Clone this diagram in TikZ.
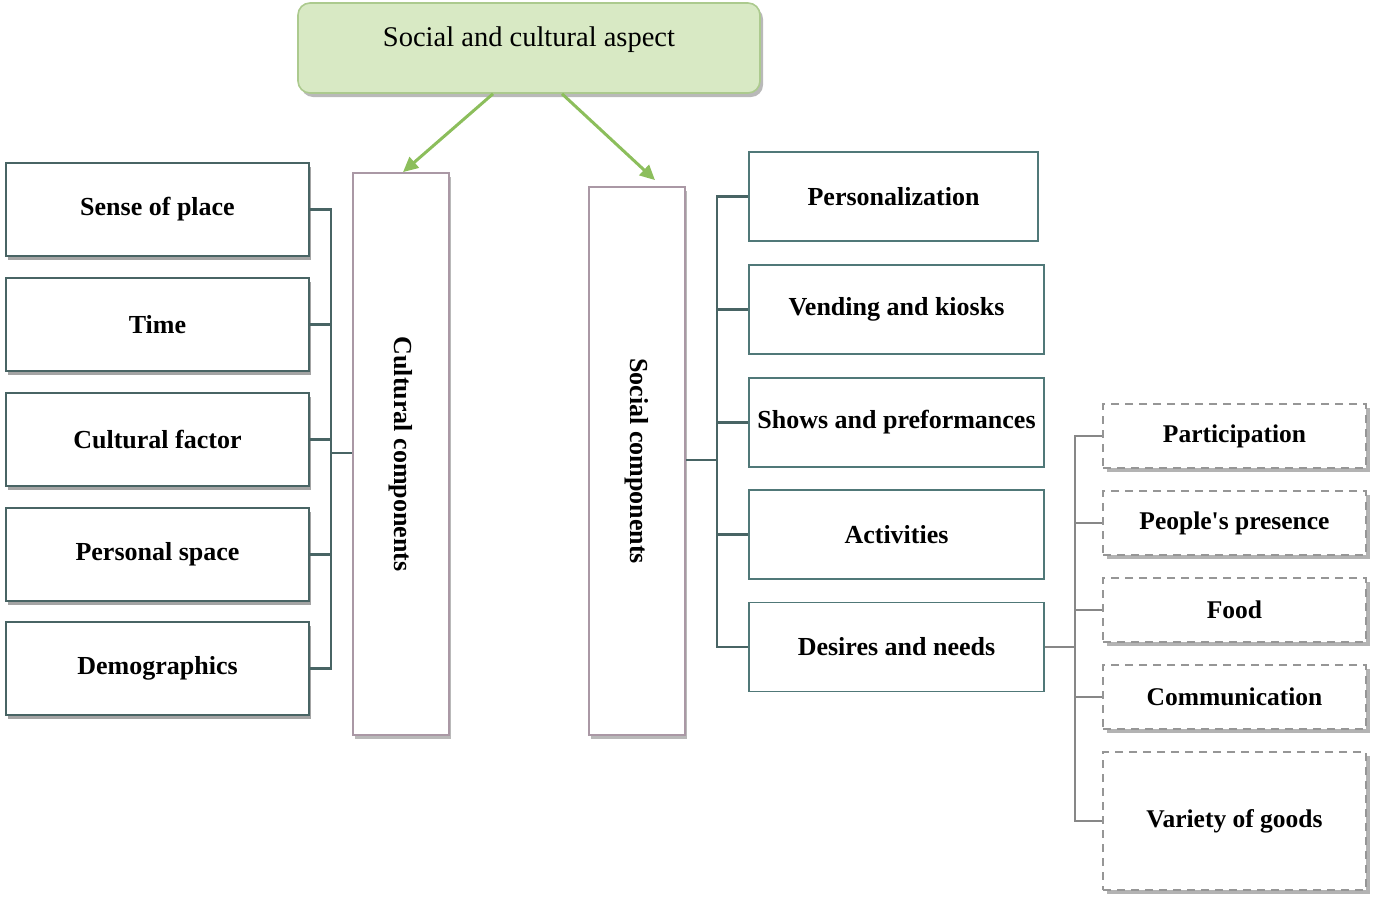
\documentclass[tikz,border=0pt]{standalone}
\usepackage{fontspec}
\setmainfont{Liberation Serif}
\usepackage{graphicx}
\usetikzlibrary{shadows,arrows.meta,calc}
\definecolor{boxc}{RGB}{72,100,100}
\definecolor{tealc}{RGB}{80,120,120}
\definecolor{pinkc}{RGB}{170,152,165}
\definecolor{greenf}{RGB}{216,233,196}
\definecolor{greend}{RGB}{172,202,142}
\definecolor{arrowc}{RGB}{140,190,92}
\definecolor{dashc}{RGB}{150,150,150}
\tikzset{
  lbox/.style={draw=boxc, line width=1.8pt, fill=white, minimum width=303pt, minimum height=93pt,
    font=\bfseries\fontsize{26}{30}\selectfont,
    drop shadow={shadow xshift=2pt, shadow yshift=-4pt, opacity=0.55, fill=black!65}},
  rbox/.style={draw=tealc, line width=1.8pt, fill=white, minimum height=89pt,
    font=\bfseries\fontsize{26}{30}\selectfont},
  vbox/.style={draw=pinkc, line width=1.8pt, fill=white, minimum width=96pt,
    font=\bfseries\fontsize{26}{30}\selectfont,
    drop shadow={shadow xshift=2pt, shadow yshift=-4pt, opacity=0.5, fill=black!55}},
  dbox/.style={draw=dashc, line width=1.5pt, dash pattern=on 8pt off 6pt, fill=white,
    minimum width=263pt, font=\bfseries\fontsize{25.5}{30}\selectfont,
    drop shadow={shadow xshift=4pt, shadow yshift=-4pt, opacity=0.6, fill=black!50}},
  conn/.style={draw=boxc, line width=2.3pt},
  dconn/.style={draw=dashc!90!black, line width=2.2pt},
  garrow/.style={draw=arrowc, line width=3pt, -{Triangle[length=15pt,width=14pt]}},
}
\begin{document}
\begin{tikzpicture}[x=1pt,y=-1pt]
\useasboundingbox (0,0) rectangle (1376,900);
% top
\node[draw=greend, line width=1.6pt, fill=greenf, rounded corners=12pt, minimum width=462pt, minimum height=90pt,
  font=\fontsize{28.5}{32}\selectfont, text height=20pt, text depth=24pt,
  drop shadow={shadow xshift=3pt, shadow yshift=-4pt, opacity=0.5, fill=black!55}]
  (top) at (529,48) {Social and cultural aspect};
% left boxes
\node[lbox] (sense) at (157.5,209.5) {Sense of place};
\node[lbox] (time) at (157.5,324.5) {Time};
\node[lbox] (cult) at (157.5,439.5) {Cultural factor};
\node[lbox] (pers) at (157.5,554.5) {Personal space};
\node[lbox] (demo) at (157.5,668.5) {Demographics};
% vertical boxes
\node[vbox, minimum height=562pt] (cc) at (401,454) {\rotatebox{-90}{Cultural components}};
\node[vbox, minimum height=548pt] (sc) at (637,461) {\rotatebox{-90}{Social components}};
% right boxes
\node[rbox, minimum width=289pt] (pz) at (893.5,196.5) {Personalization};
\node[rbox, minimum width=295pt] (vk) at (896.5,309.5) {Vending and kiosks};
\node[rbox, minimum width=295pt] (sp) at (896.5,422.5) {Shows and preformances};
\node[rbox, minimum width=295pt] (act) at (896.5,534.5) {Activities};
\node[rbox, minimum width=295pt] (des) at (896.5,647) {Desires and needs};
% dashed boxes
\node[dbox, minimum height=64pt] (part) at (1234.5,436) {Participation};
\node[dbox, minimum height=64pt] (ppl) at (1234.5,523) {People\textquotesingle s presence};
\node[dbox, minimum height=64pt] (food) at (1234.5,610) {Food};
\node[dbox, minimum height=64pt] (comm) at (1234.5,697) {Communication};
\node[dbox, minimum height=138pt] (var) at (1234.5,821) {Variety of goods};
% arrows
\draw[garrow] ($(top.south)+(-36,0)$) -- ($(cc.north)+(2,0)$);
\draw[garrow] ($(top.south)+(33,0)$) -- ($(sc.north)+(18,-6)$);
% left connectors
\coordinate (lbus) at (331,453);
\foreach \n in {sense,time,cult,pers,demo}{\draw[conn] (\n.east) -- (\n.east -| lbus);}
\draw[conn, line cap=rect] (sense.east -| lbus) -- (demo.east -| lbus);
\draw[conn] (lbus) -- (cc.west |- lbus);
% right connectors
\coordinate (rbus) at (717,460);
\draw[conn] (sc.east |- rbus) -- (rbus);
\foreach \n in {pz,vk,sp,act,des}{\draw[conn] (\n.west -| rbus) -- (\n.west);}
\draw[conn, line cap=rect] (pz.west -| rbus) -- (des.west -| rbus);
% desires connectors
\coordinate (dbus) at (1075,647);
\draw[dconn] (des.east) -- (dbus);
\foreach \n in {part,ppl,food,comm,var}{\draw[dconn] (\n.west -| dbus) -- (\n.west);}
\draw[dconn, line cap=rect] (part.west -| dbus) -- (var.west -| dbus);
\end{tikzpicture}
\end{document}
